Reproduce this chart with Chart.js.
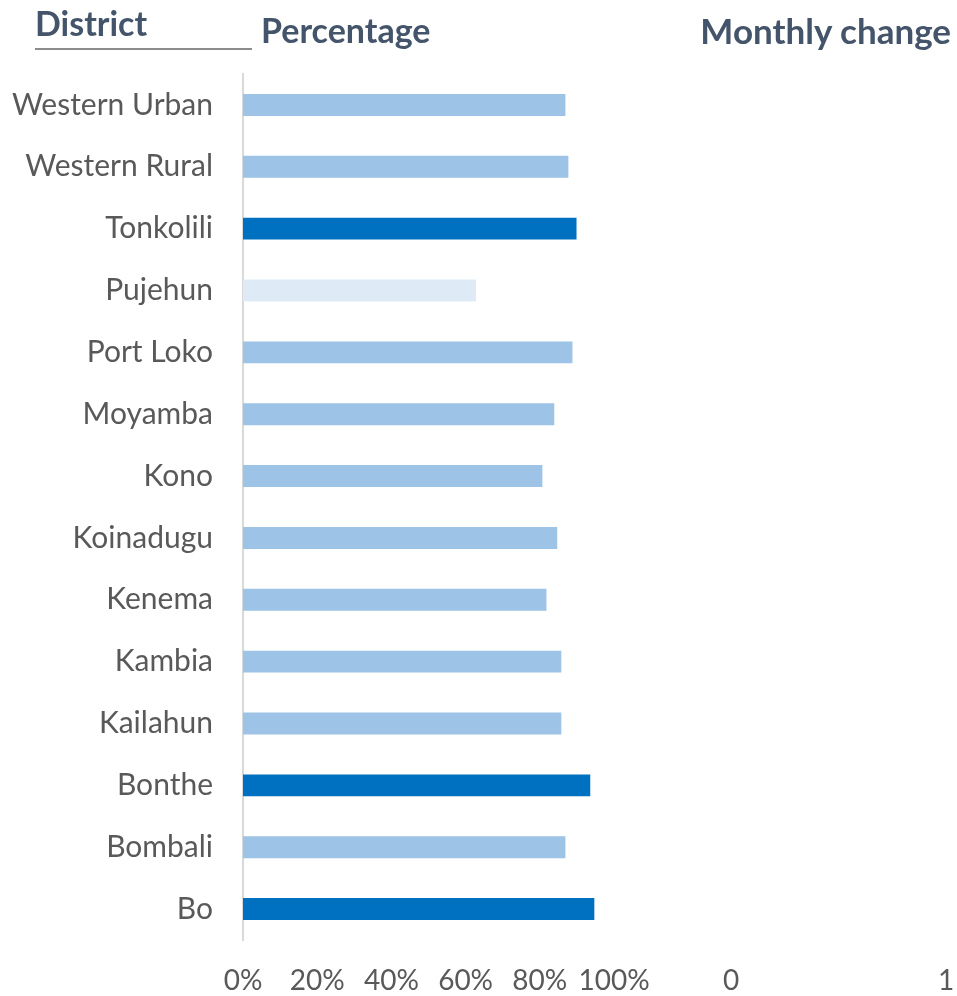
<!DOCTYPE html>
<html>
<head>
<meta charset="utf-8">
<script src="https://cdn.jsdelivr.net/npm/chart.js@4/dist/chart.umd.min.js"></script>
<style>
  html, body { margin: 0; padding: 0; background: #ffffff; }
  #wrap { position: relative; width: 957px; height: 996px; overflow: hidden; }
  canvas { position: absolute; top: 0; }
  #pctChart { left: 0; }
  #chgChart { left: 660px; }
  .title {
    position: absolute; font-family: Lato, "Open Sans", sans-serif; font-weight: 700;
    font-size: 34px; line-height: 38px; color: #44546A; white-space: nowrap;
  }
  #tDistrict { left: 35px; top: 4px; }
  #tRule { position: absolute; left: 35px; top: 48px; width: 217px; height: 2px; background: #8C8C8C; }
  #tPercent { left: 261px; top: 11px; }
  #tChange { right: 6px; top: 11px; font-size: 35px; }
</style>
</head>
<body>
<div id="wrap">
  <canvas id="pctChart" width="660" height="996"></canvas>
  <canvas id="chgChart" width="297" height="996"></canvas>
  <div class="title" id="tDistrict">District</div>
  <div id="tRule"></div>
  <div class="title" id="tPercent">Percentage</div>
  <div class="title" id="tChange">Monthly change</div>
</div>
<script>
// Districts, listed top to bottom
const districts = ["Western Urban", "Western Rural", "Tonkolili", "Pujehun", "Port Loko",
  "Moyamba", "Kono", "Koinadugu", "Kenema", "Kambia", "Kailahun", "Bonthe", "Bombali", "Bo"];

// Share per district (%)
const percentage = [86.9, 87.7, 89.9, 62.8, 88.8, 83.9, 80.7, 84.7, 81.8, 85.8, 85.8, 93.6, 86.9, 94.7];

// Monthly change per district (no values reported)
const monthlyChange = [null, null, null, null, null, null, null, null, null, null, null, null, null, null];

// Percentage axis ticks
const pctTicks = ["0%", "20%", "40%", "60%", "80%", "100%"];

// Bar shading tiers: 2 = top, 1 = middle, 0 = lowest
const shadeTier = [1, 1, 2, 0, 1, 1, 1, 1, 1, 1, 1, 2, 1, 2];
const tierColours = ["#DEEBF7", "#9DC3E6", "#0070C0"];

const FONT = "Lato, 'Open Sans', sans-serif";
const GREY = "#595959";

// bottom axis: fixed height, no automatic side padding for edge labels
function fitBottomAxis(s) {
  s.height = 56;
  s.paddingLeft = 0;
  s.paddingRight = 0;
}

new Chart(document.getElementById("pctChart"), {
  type: "bar",
  data: {
    labels: districts,
    datasets: [{
      data: percentage.map(v => v / 100),
      backgroundColor: shadeTier.map(t => tierColours[t]),
      borderWidth: 0,
      barPercentage: 0.355,
      categoryPercentage: 1
    }]
  },
  options: {
    indexAxis: "y",
    responsive: false,
    animation: false,
    events: [],
    layout: { padding: { top: 74, right: 46, left: 0, bottom: 0 } },
    plugins: { legend: { display: false }, tooltip: { enabled: false } },
    scales: {
      x: {
        min: 0, max: 1,
        ticks: {
          stepSize: 0.2,
          autoSkip: false,
          padding: 24,
          color: GREY,
          font: { family: FONT, size: 28 },
          maxRotation: 0,
          callback: (v, i) => pctTicks[i]
        },
        grid: { display: false, drawTicks: false },
        border: { display: false },
        afterFit: fitBottomAxis
      },
      y: {
        ticks: {
          padding: 30,
          color: GREY,
          font: { family: FONT, size: 30 }
        },
        grid: { display: false, drawTicks: false },
        border: { display: true, color: "#D9D9D9", width: 2 },
        afterFit: s => { s.width = 243; }
      }
    }
  }
});

new Chart(document.getElementById("chgChart"), {
  type: "bar",
  data: {
    labels: districts,
    datasets: [{
      data: monthlyChange,
      backgroundColor: "#9DC3E6",
      borderWidth: 0,
      barPercentage: 0.355,
      categoryPercentage: 1
    }]
  },
  options: {
    indexAxis: "y",
    responsive: false,
    animation: false,
    events: [],
    layout: { padding: { top: 74, right: 11, left: 71, bottom: 0 } },
    plugins: { legend: { display: false }, tooltip: { enabled: false } },
    scales: {
      x: {
        min: 0, max: 1,
        ticks: {
          stepSize: 1,
          autoSkip: false,
          padding: 24,
          color: GREY,
          font: { family: FONT, size: 28 },
          maxRotation: 0
        },
        grid: { display: false, drawTicks: false },
        border: { display: false },
        afterFit: fitBottomAxis
      },
      y: { display: false }
    }
  }
});
</script>
</body>
</html>
